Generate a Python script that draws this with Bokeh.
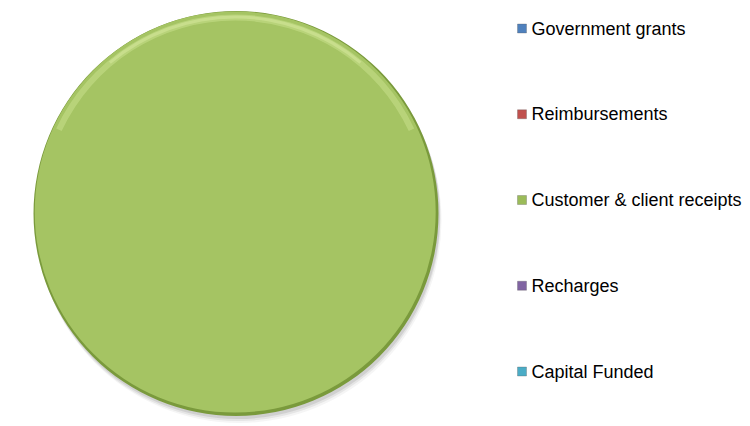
import math
from bokeh.plotting import figure
from bokeh.models import Range1d, ColumnDataSource
from bokeh.core.properties import value
from bokeh.embed import file_html
from bokeh.resources import INLINE

categories = ["Government grants", "Reimbursements", "Customer & client receipts", "Recharges", "Capital Funded"]
amounts = [0, 0, 100, 0, 0]
colors = ["#4F81BD", "#C0504D", "#A5C463", "#8064A2", "#4BACC6"]
legend_colors = ["#4F81BD", "#C0504D", "#9BBB59", "#8064A2", "#4BACC6"]

W, H = 750, 426
p = figure(width=W, height=H, output_backend="svg", toolbar_location=None,
           x_range=Range1d(0, W), y_range=Range1d(0, H), min_border=0)
p.axis.visible = False
p.grid.visible = False
p.outline_line_color = None
p.background_fill_color = "white"

cx, cy, r = 235.5, 213.0, 202.5

# angles from data (clockwise from 12 o'clock)
total = sum(amounts)
starts, ends = [], []
acc = 0.0
for a in amounts:
    s = math.pi / 2 - 2 * math.pi * acc / total
    acc += a
    e = math.pi / 2 - 2 * math.pi * acc / total
    starts.append(e)
    ends.append(s)

# soft shadow
for off, alpha in [((3, -7), 0.06), ((2, -5), 0.10), ((1.5, -3), 0.14)]:
    p.circle(x=cx + off[0], y=cy + off[1], radius=r, fill_color="#555555",
             fill_alpha=alpha, line_color=None)

# dark rim
p.circle(x=cx, y=cy, radius=r, fill_color="#7A9A3C", line_color=None)

src = ColumnDataSource(dict(cat=[c for c, a in zip(categories, amounts) if a > 0],
                            start=[s for s, a in zip(starts, amounts) if a > 0],
                            end=[e for e, a in zip(ends, amounts) if a > 0],
                            color=[c for c, a in zip(colors, amounts) if a > 0]))
full = [a for a in amounts if a > 0]
if len(full) == 1:
    p.circle(x=cx - 0.8, y=cy + 1.5, radius=r - 2.0, fill_color=src.data["color"][0], line_color=None)
else:
    p.wedge(x=cx, y=cy, radius=r - 2.0, start_angle="start", end_angle="end",
            fill_color="color", line_color=None, source=src)

# top highlight rim
p.annular_wedge(x=cx - 0.8, y=cy + 1.5, inner_radius=r - 11, outer_radius=r - 5,
                start_angle=math.radians(25), end_angle=math.radians(155),
                fill_color="#C9E08C", fill_alpha=0.55, line_color=None)
p.annular_wedge(x=cx - 0.8, y=cy + 1.5, inner_radius=r - 9, outer_radius=r - 6,
                start_angle=math.radians(50), end_angle=math.radians(130),
                fill_color="#D8EAA0", fill_alpha=0.5, line_color=None)

# legend
step = 85.75
ly = [398 - step * i for i in range(len(categories))]
p.scatter(x=[521.5] * len(categories), y=ly, marker="square", size=9,
          fill_color=legend_colors, line_color="#555555", line_alpha=0.3)
p.text(x=[531] * len(categories), y=ly, text=categories, text_font=value("Liberation Sans"),
       text_font_size="18px", text_baseline="middle", text_align="left", text_color="#000000")

open("out.html", "w").write(file_html(p, INLINE))
